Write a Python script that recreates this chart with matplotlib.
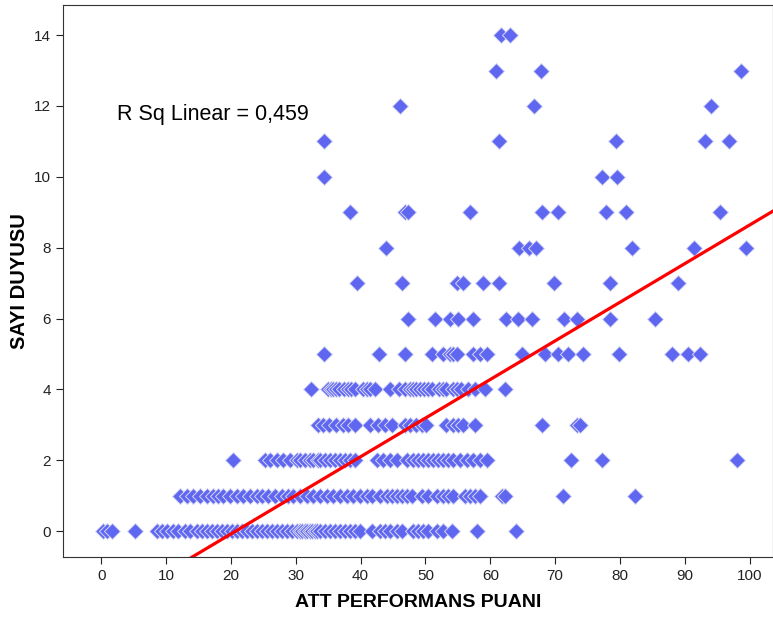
import numpy as np
import matplotlib
matplotlib.use("Agg")
import matplotlib.pyplot as plt

plt.rcParams['font.family'] = ['Liberation Sans', 'DejaVu Sans']

# x values (ATT PERFORMANS PUANI) grouped by their y value (SAYI DUYUSU)
att_at_0 = [0.2, 0.9, 1.7, 5.2, 8.6, 9.4, 10.2, 11.1, 11.9, 12.9, 13.7, 14.8, 15.6, 16.3,
            17.1, 17.9, 18.6, 19.4, 20.2, 20.9, 21.7, 22.5, 23.3, 24.0, 24.8, 25.6, 26.3,
            27.1, 27.9, 28.7, 29.4, 30.2, 30.7, 31.0, 31.4, 31.7, 32.2, 32.5, 33.0, 33.3,
            33.8, 34.5, 35.3, 36.1, 36.8, 37.6, 38.4, 39.1, 39.9, 41.8, 43.0, 43.8, 44.5,
            45.6, 46.4, 48.1, 48.8, 49.6, 50.4, 51.8, 52.7, 54.1, 57.9, 64.0]
att_at_1 = [12.2, 13.3, 14.2, 15.3, 16.3, 17.3, 18.0, 18.8, 19.9, 20.9, 21.9, 23.0, 24.0,
            24.8, 25.7, 26.8, 27.9, 28.8, 29.6, 30.7, 31.7, 32.7, 33.7, 34.8, 35.7, 36.8,
            37.9, 38.8, 39.9, 41.0, 41.8, 43.0, 44.1, 44.8, 45.6, 46.4, 47.1, 47.9, 49.5,
            50.4, 51.8, 52.7, 53.5, 54.2, 56.1, 56.9, 57.6, 58.4, 61.8, 62.2, 71.2, 82.3]
att_at_2 = [20.3, 25.3, 26.0, 27.1, 28.0, 29.1, 30.2, 30.7, 31.4, 32.2, 32.7, 33.4, 33.7,
            34.5, 35.3, 36.1, 36.8, 37.6, 38.4, 39.1, 42.5, 43.5, 44.5, 45.6, 47.1, 48.1,
            48.8, 49.6, 50.4, 51.2, 51.9, 52.7, 53.5, 54.2, 55.3, 56.4, 57.3, 58.4, 59.5,
            72.4, 77.3, 98.0]
att_at_3 = [33.4, 34.2, 35.1, 36.2, 37.3, 38.1, 39.1, 41.4, 42.7, 43.8, 44.8, 46.8, 47.6,
            48.5, 49.5, 50.1, 53.2, 54.2, 55.0, 55.8, 57.6, 67.9, 73.3, 73.8]
att_at_4 = [32.4, 35.0, 35.4, 35.7, 36.2, 36.7, 37.4, 38.1, 38.5, 39.1, 40.4, 41.0, 41.4,
            42.2, 44.5, 45.9, 46.8, 47.6, 48.1, 48.5, 49.2, 49.8, 50.4, 51.0, 52.1, 52.7,
            53.2, 54.2, 54.9, 55.5, 56.5, 57.6, 59.2, 62.2]
att_at_5 = [34.4, 42.8, 46.8, 51.0, 52.7, 53.8, 54.2, 54.9, 57.3, 58.4, 59.5, 64.9, 68.4,
            70.4, 72.0, 74.3, 79.8, 88.0, 90.5, 92.4]
att_at_6 = [47.3, 51.5, 53.8, 55.0, 57.3, 62.4, 64.3, 66.4, 71.3, 73.3, 78.4, 85.4]
att_at_7 = [39.4, 46.4, 54.9, 55.8, 58.9, 61.3, 69.8, 78.4, 88.9]
att_at_8 = [43.9, 64.4, 65.9, 67.0, 81.8, 91.4, 99.4]
att_at_9 = [38.4, 46.8, 47.3, 56.9, 67.9, 70.4, 77.8, 80.9, 95.4]
att_at_10 = [34.4, 77.3, 79.5]
att_at_11 = [34.4, 61.3, 79.4, 93.1, 96.8]
att_at_12 = [46.1, 66.7, 94.1]
att_at_13 = [60.9, 67.8, 98.6]
att_at_14 = [61.6, 63.0]

groups = [att_at_0, att_at_1, att_at_2, att_at_3, att_at_4, att_at_5, att_at_6, att_at_7,
          att_at_8, att_at_9, att_at_10, att_at_11, att_at_12, att_at_13, att_at_14]

# linear fit
fit_intercept = -2.26
fit_slope = 0.109
r_sq_label = 'R Sq Linear = 0,459'

x_ticks = list(range(0, 101, 10))
y_ticks = list(range(0, 15, 2))

x_vals = []
y_vals = []
for level, xs in enumerate(groups):
    x_vals.extend(xs)
    y_vals.extend([level] * len(xs))

fig = plt.figure(figsize=(7.73, 6.23), dpi=100)
ax = fig.add_axes([0.0815, 0.106, 0.9185, 0.886])

ax.plot(x_vals, y_vals, linestyle='none', marker='D', markersize=8,
        markerfacecolor='#5f66f0', markeredgecolor='#d6d8f6', markeredgewidth=0.7)

xlim = (-5.9, 103.6)
line_x = np.array(xlim)
ax.plot(line_x, fit_intercept + fit_slope * line_x, color='#ff0000', linewidth=2.3)

ax.set_xlim(*xlim)
ax.set_ylim(-0.73, 14.85)
ax.set_xticks(x_ticks)
ax.set_yticks(y_ticks)
ax.tick_params(axis='both', labelsize=11, colors='#222222', direction='out', length=5)

ax.text(2.5, 11.75, r_sq_label, fontsize=15.5, va='center', ha='left', color='black')

ax.set_xlabel('ATT PERFORMANS PUANI', fontsize=14, fontweight='bold', labelpad=8)
ax.set_ylabel('SAYI DUYUSU', fontsize=14.5, fontweight='bold', labelpad=4)

for side in ['left', 'bottom', 'top', 'right']:
    ax.spines[side].set_color('#333333')
    ax.spines[side].set_linewidth(0.8)

fig.savefig('out.png', dpi=100)
